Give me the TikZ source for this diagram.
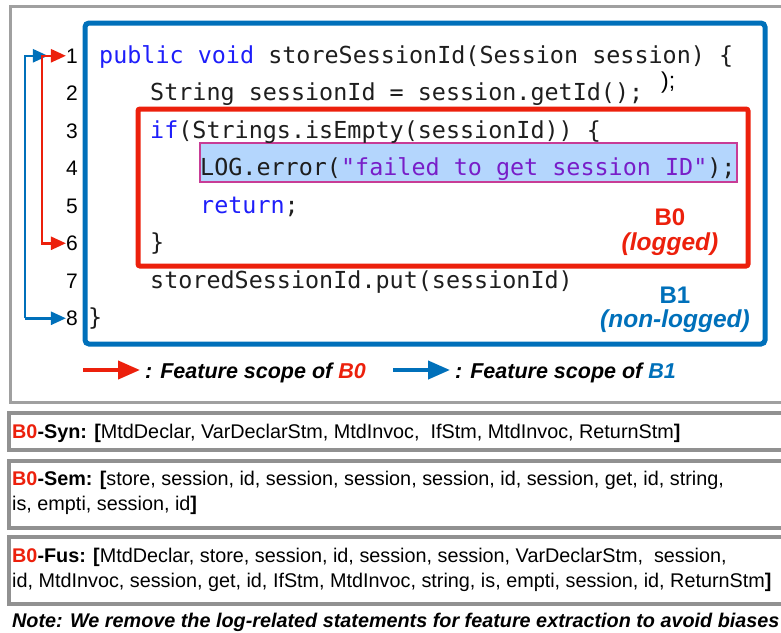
\documentclass[tikz,border=0pt]{standalone}
\usepackage{fontspec}
\setmainfont{Liberation Sans}
\setsansfont{Liberation Sans}
\setmonofont{DejaVu Sans Mono}
\usetikzlibrary{arrows.meta,calc}

\definecolor{scopeblue}{RGB}{0,112,186}
\definecolor{scopered}{RGB}{236,32,12}
\definecolor{kwblue}{RGB}{30,30,250}
\definecolor{strpurple}{RGB}{120,30,200}
\definecolor{codegray}{RGB}{30,30,30}
\definecolor{hlfill}{RGB}{180,214,253}
\definecolor{hledge}{RGB}{200,60,150}
\definecolor{framegray}{RGB}{160,160,160}
\definecolor{boxgray}{RGB}{145,145,145}

\begin{document}
\begin{tikzpicture}[x=1pt,y=-1pt,
  code/.style={anchor=base west, inner sep=0pt, font=\fontsize{23.4}{28}\selectfont\ttfamily, text=codegray},
  lnum/.style={anchor=base east, inner sep=0pt, font=\fontsize{21}{25}\selectfont},
  tag/.style={anchor=base, inner sep=0pt, font=\fontsize{24}{28}\selectfont\bfseries},
  tagit/.style={anchor=base, inner sep=0pt, font=\fontsize{24.5}{28}\selectfont\bfseries\itshape},
  legend/.style={anchor=base west, inner sep=0pt, font=\fontsize{21.5}{25}\selectfont\bfseries\itshape},
  feat/.style={anchor=base west, inner sep=0pt, font=\fontsize{19.8}{23}\selectfont},
  scopetip/.style={line width=2.5pt, -{Triangle[length=15pt,width=13pt]}},
  scopepair/.style={line width=2.5pt, {Triangle[length=15pt,width=13pt]}-{Triangle[length=15pt,width=13pt]}},
  legendarrow/.style={line width=4pt, -{Triangle[length=22pt,width=18pt]}},
  frame/.style={draw=framegray, line width=3pt},
  featbox/.style={draw=boxgray, line width=3.5pt}
]
\useasboundingbox (0,0) rectangle (781,632);

% outer frames
\draw[frame] (10,6) rectangle (790,402);
\draw[featbox] (9,413) rectangle (790,450);
\draw[featbox] (9,461) rectangle (790,528);
\draw[featbox] (9,537) rectangle (790,604);

% block frames
\draw[scopeblue, line width=5pt, rounded corners=4pt] (85,23) rectangle (765,344);
\draw[scopered, line width=5pt, rounded corners=2pt] (138,109) rectangle (748,266);

% highlighted logging statement
\draw[hledge, fill=hlfill, line width=1.5pt] (200,143) rectangle (737,182);

% line numbers
\node[lnum] (n1) at (78,63) {1};
\node[lnum] (n2) at (78,100.5) {2};
\node[lnum] (n3) at (78,138) {3};
\node[lnum] (n4) at (78,175.5) {4};
\node[lnum] (n5) at (78,213) {5};
\node[lnum] (n6) at (78,250.5) {6};
\node[lnum] (n7) at (78,288) {7};
\node[lnum] (n8) at (78,325.5) {8};

% source code
\node[code] (c1) at (99,63) {{\color{kwblue}public void} storeSessionId(Session session) \{};
\node[code] (c2) at (150,100.5) {String sessionId = session.getId();};
\node[code] (c3) at (150,138) {{\color{kwblue}if}(Strings.isEmpty(sessionId)) \{};
\node[code] (c4) at (200,175.5) {LOG.error({\color{strpurple}"failed to get session ID"});};
\node[code] (c5) at (200,213) {{\color{kwblue}return};};
\node[code] (c6) at (150,250.5) {\}};
\node[code] (c7) at (150,288) {storedSessionId.put(sessionId)};
\node[code] (c8) at (88,325.5) {\}};
\node[anchor=base west, inner sep=0pt, font=\fontsize{23}{26}\selectfont] (stray) at (661,88) {);};

% block labels
\node[tag, text=scopered] (b0) at (670,225) {B0};
\node[tagit, text=scopered] (b0s) at (670,250) {(logged)};
\node[tag, text=scopeblue] (b1) at (675,303) {B1};
\node[tagit, text=scopeblue] (b1s) at (675,327) {(non-logged)};

% feature scopes
\coordinate (bluetop) at ($(n1.west)+(-18,0)$);
\draw[scopeblue, scopetip] (25,0 |- n8.west) -- (25,0 |- n1.west) -- (bluetop);
\draw[scopeblue, scopetip] (25,0 |- n8.west) -- (n8.west);
\draw[scopered, scopepair] (n1.west) -- (42,0 |- n1.west) -- (42,0 |- n6.west) -- (n6.west);

% legend
\node[legend] (lg0) at (145,378) {: Feature scope of \textcolor{scopered}{B0}};
\node[legend] (lg1) at (455,378) {: Feature scope of \textcolor{scopeblue}{B1}};
\coordinate (lg0tail) at (83,370);
\coordinate (lg1tail) at (393,370);
\draw[scopered, legendarrow, shorten >=5pt] (lg0tail) -- (lg0tail -| lg0.west);
\draw[scopeblue, legendarrow, shorten >=5pt] (lg1tail) -- (lg1tail -| lg1.west);

% extracted features
\node[feat] (syn) at (12,438) {\textbf{\textcolor{scopered}{B0}-Syn: [}MtdDeclar, VarDeclarStm, MtdInvoc, \ IfStm, MtdInvoc, ReturnStm\textbf{]}};
\node[feat] (sem1) at (12,485) {\textbf{\textcolor{scopered}{B0}-Sem: [}store, session, id, session, session, session, id, session, get, id, string,};
\node[feat] (sem2) at (12,510) {is, empti, session, id\textbf{]}};
\node[feat] (fus1) at (12,562) {\textbf{\textcolor{scopered}{B0}-Fus: [}MtdDeclar, store, session, id, session, session, VarDeclarStm, \ session,};
\node[feat] (fus2) at (12,587) {id, MtdInvoc, session, get, id, IfStm, MtdInvoc, string, is, empti, session, id, ReturnStm\textbf{]}};
\node[feat, font=\fontsize{19.8}{23}\selectfont\bfseries\itshape] (note) at (12,627) {Note: We remove the log-related statements for feature extraction to avoid biases};
\end{tikzpicture}
\end{document}
